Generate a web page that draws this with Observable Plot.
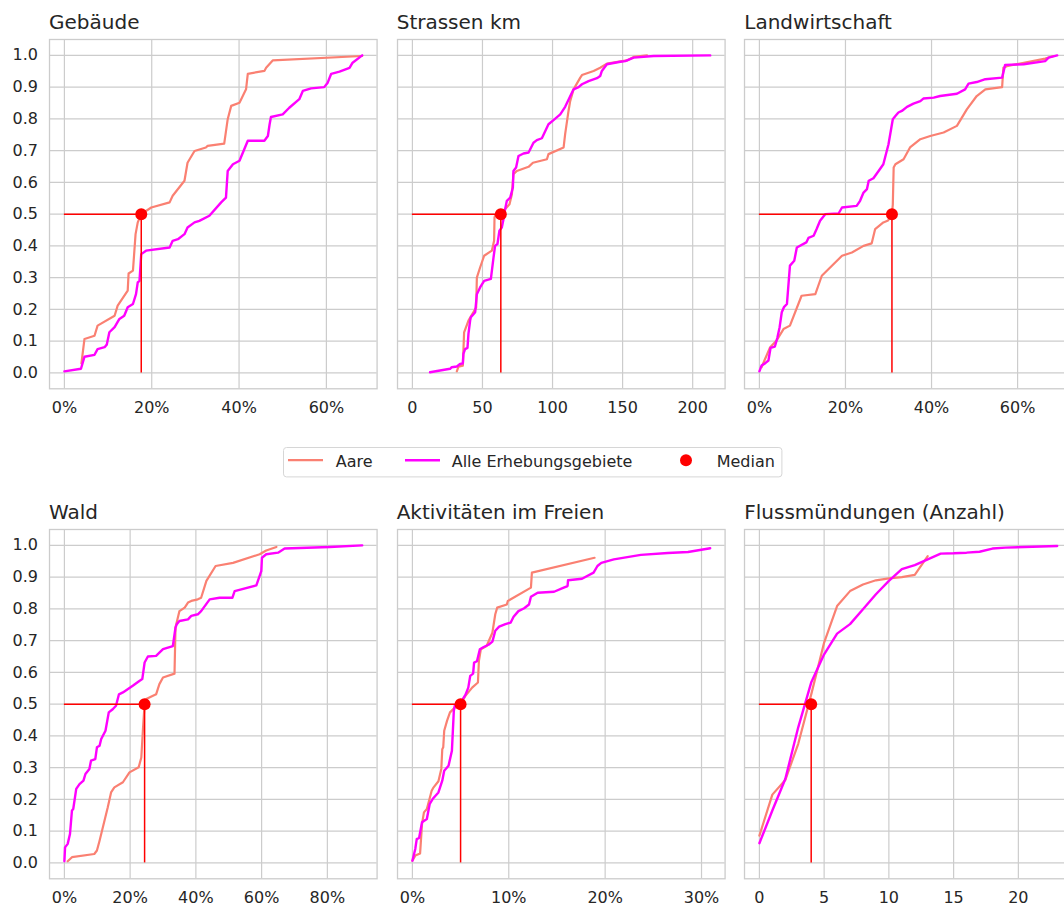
<!DOCTYPE html>
<html><head><meta charset="utf-8">
<script src="https://cdn.jsdelivr.net/npm/d3@7"></script>
<script src="https://cdn.jsdelivr.net/npm/@observablehq/plot@0.6"></script>
<style>
html,body{margin:0;padding:0;background:#fff;overflow:hidden;width:1064px;height:905px;}
#root{position:relative;width:1064px;height:905px;font-family:"DejaVu Sans",sans-serif;color:#262626;overflow:hidden;}
.panel{position:absolute;}
.panel svg{max-width:none !important;overflow:visible;display:block;}
.title{position:absolute;font-size:20px;line-height:20px;white-space:nowrap;font-family:"DejaVu Sans",sans-serif;color:#262626;}
.legend{position:absolute;left:283px;top:447px;}
</style></head><body><div id="root"></div>
<script>
// ---------- data ----------
const titles = ["Gebäude", "Strassen km", "Landwirtschaft", "Wald", "Aktivitäten im Freien", "Flussmündungen (Anzahl)"];
const xTicks = [[0, 20, 40, 60], [0, 50, 100, 150, 200], [0, 20, 40, 60], [0, 20, 40, 60, 80], [0, 10, 20, 30], [0, 5, 10, 15, 20]];
const percentAxis = [true, false, true, true, true, false];
const yTicks = [0, 0.1, 0.2, 0.3, 0.4, 0.5, 0.6, 0.7, 0.8, 0.9, 1.0];
const medians = [17.6, 63.1, 30.8, 24.4, 5.0, 4];
const seriesNames = ["Aare", "Alle Erhebungsgebiete", "Median"];

const gebaeudeAare = [[3.9,0.03],[4.6,0.107],[6.9,0.117],[7.6,0.149],[11.5,0.18],[12.2,0.212],[14.5,0.259],[14.7,0.313],[15.7,0.322],[16.3,0.437],[16.8,0.474],[17.6,0.5],[19.9,0.521],[24.1,0.537],[24.8,0.558],[27.5,0.605],[28.2,0.662],[29.8,0.699],[32.4,0.71],[32.8,0.715],[36.6,0.722],[37.4,0.799],[38.2,0.841],[40.1,0.851],[41.6,0.893],[42.0,0.942],[45.8,0.951],[46.2,0.961],[47.7,0.984],[68.2,0.998]];
const gebaeudeAlle = [[0,0.005],[3.8,0.013],[4.6,0.051],[6.9,0.057],[7.6,0.075],[9.2,0.081],[9.7,0.089],[10.3,0.128],[11.5,0.144],[12.6,0.17],[13.7,0.18],[14.5,0.207],[15.7,0.217],[16.4,0.248],[16.8,0.285],[17.2,0.29],[17.6,0.374],[18.7,0.385],[24.1,0.395],[24.8,0.416],[26.0,0.421],[27.5,0.437],[28.2,0.458],[29.8,0.474],[30.9,0.479],[33.2,0.495],[35.9,0.537],[37.0,0.552],[37.4,0.636],[38.6,0.657],[40.1,0.668],[42.0,0.731],[45.8,0.731],[46.6,0.746],[47.0,0.783],[47.3,0.806],[50.0,0.814],[51.5,0.835],[53.8,0.862],[54.6,0.888],[56.5,0.896],[59.5,0.9],[60.3,0.914],[61.1,0.942],[63.0,0.949],[65.3,0.961],[66.0,0.977],[68.2,1.0]];

const strassenAare = [[31.7,0.005],[32.9,0.02],[36.0,0.023],[36.9,0.128],[40.0,0.165],[45.5,0.206],[46.0,0.3],[48.3,0.332],[51.2,0.369],[56.7,0.385],[58.3,0.416],[58.6,0.49],[59.0,0.495],[63.1,0.5],[66.2,0.516],[69.3,0.531],[71.0,0.563],[72.1,0.626],[74.5,0.636],[82.9,0.649],[86.0,0.662],[96.0,0.673],[97.1,0.689],[107.9,0.71],[109.0,0.752],[111.4,0.825],[112.6,0.856],[115.0,0.893],[119.8,0.93],[121.0,0.938],[129.3,0.951],[134.0,0.961],[138.8,0.974],[153.1,0.984],[157.9,0.995],[167.4,1.0]];
const strassenAlle = [[12.6,0.002],[26.9,0.013],[28.1,0.018],[31.7,0.02],[34.0,0.028],[36.0,0.03],[36.4,0.06],[37.6,0.075],[39.3,0.079],[40.0,0.123],[41.2,0.165],[41.7,0.175],[44.8,0.191],[46.0,0.248],[48.3,0.269],[51.2,0.29],[56.0,0.296],[57.9,0.364],[59.0,0.4],[60.7,0.406],[62.1,0.448],[63.8,0.458],[65.0,0.484],[65.5,0.5],[66.2,0.516],[67.4,0.542],[69.8,0.552],[71.7,0.584],[72.1,0.636],[74.0,0.647],[75.7,0.683],[79.3,0.691],[82.9,0.694],[86.4,0.725],[88.8,0.733],[92.4,0.739],[97.1,0.783],[100.7,0.796],[105.5,0.814],[109.0,0.838],[115.0,0.893],[118.6,0.9],[121.0,0.909],[125.7,0.919],[131.7,0.928],[134.0,0.935],[135.2,0.951],[138.8,0.972],[148.3,0.98],[151.9,0.982],[157.9,0.993],[172.1,0.998],[212.5,1.0]];

const landAare = [[0.5,0.018],[2.5,0.081],[4.0,0.102],[5.6,0.138],[7.1,0.149],[9.8,0.243],[13.0,0.248],[14.5,0.306],[19.2,0.369],[21.5,0.379],[24.2,0.4],[26.1,0.408],[26.9,0.453],[28.8,0.474],[29.9,0.48],[30.8,0.5],[31.0,0.53],[31.2,0.647],[31.6,0.657],[33.5,0.673],[35.0,0.71],[37.4,0.736],[39.7,0.746],[42.8,0.757],[45.9,0.778],[48.2,0.83],[50.5,0.872],[52.5,0.893],[56.4,0.9],[56.7,0.961],[57.5,0.966],[66.4,0.99],[68.4,0.998]];
const landAlle = [[0,0.005],[0.5,0.023],[1.3,0.03],[2.1,0.039],[2.6,0.079],[3.6,0.083],[4.2,0.112],[4.7,0.144],[5.2,0.191],[5.7,0.207],[6.4,0.217],[7.1,0.338],[8.1,0.353],[8.7,0.395],[10.9,0.411],[11.4,0.425],[12.6,0.432],[13.3,0.453],[14.1,0.479],[15.3,0.5],[18.4,0.502],[19.2,0.521],[22.6,0.526],[23.4,0.542],[24.2,0.568],[25.0,0.579],[25.4,0.605],[26.5,0.613],[27.7,0.636],[28.8,0.657],[30.0,0.72],[31.0,0.799],[31.6,0.809],[32.3,0.82],[33.1,0.825],[34.3,0.838],[35.8,0.848],[37.4,0.856],[38.1,0.864],[40.5,0.867],[42.0,0.872],[45.9,0.879],[47.8,0.893],[48.6,0.911],[50.5,0.916],[52.5,0.925],[56.4,0.93],[57.1,0.97],[61.4,0.972],[66.4,0.982],[67.2,0.993],[69.2,1.0]];

const waldAare = [[1.0,0.005],[2.3,0.018],[9.1,0.028],[9.9,0.039],[10.7,0.07],[13.2,0.175],[14.2,0.222],[15.2,0.238],[17.8,0.254],[19.8,0.285],[22.6,0.301],[23.4,0.332],[23.9,0.421],[24.4,0.5],[24.9,0.516],[27.9,0.531],[28.9,0.563],[30.0,0.584],[33.5,0.596],[33.8,0.741],[35.0,0.793],[36.6,0.804],[37.6,0.82],[38.6,0.825],[40.6,0.83],[41.6,0.835],[43.2,0.888],[46.0,0.935],[51.3,0.945],[59.4,0.972],[61.4,0.984],[64.5,0.995]];
const waldAlle = [[0,0.005],[0.2,0.049],[1.0,0.06],[1.7,0.091],[2.3,0.165],[2.7,0.17],[3.6,0.233],[4.6,0.248],[5.8,0.259],[6.4,0.28],[7.6,0.296],[8.1,0.322],[9.4,0.327],[9.9,0.364],[10.7,0.369],[11.2,0.39],[12.5,0.416],[13.5,0.474],[14.7,0.484],[15.7,0.495],[16.6,0.531],[17.8,0.537],[20.8,0.558],[22.8,0.573],[23.7,0.579],[24.4,0.631],[25.4,0.65],[27.9,0.652],[28.9,0.662],[30.0,0.673],[33.0,0.683],[33.8,0.741],[34.2,0.752],[35.0,0.762],[37.6,0.767],[38.6,0.778],[40.6,0.783],[41.6,0.793],[44.2,0.83],[47.2,0.835],[51.1,0.835],[51.8,0.856],[58.4,0.874],[59.4,0.904],[59.9,0.919],[60.1,0.961],[61.4,0.972],[65.0,0.977],[67.0,0.99],[80.7,0.995],[90.6,1.0]];

const aktAare = [[0,0.007],[0.3,0.023],[0.8,0.03],[1.0,0.123],[1.2,0.159],[1.5,0.17],[2.0,0.227],[2.2,0.238],[2.7,0.257],[3.0,0.296],[3.1,0.358],[3.2,0.364],[3.3,0.416],[3.6,0.448],[3.9,0.474],[4.4,0.489],[5.0,0.5],[5.5,0.526],[6.2,0.552],[6.8,0.568],[6.9,0.636],[7.1,0.673],[7.7,0.683],[8.3,0.725],[8.6,0.783],[8.8,0.804],[9.8,0.814],[9.9,0.825],[12.3,0.867],[12.4,0.914],[18.9,0.961]];
const aktAlle = [[0,0.007],[0.3,0.044],[0.45,0.075],[0.7,0.079],[1.0,0.128],[1.5,0.138],[1.8,0.186],[2.1,0.201],[2.7,0.222],[3.1,0.259],[3.3,0.29],[3.75,0.306],[4.1,0.353],[4.3,0.479],[4.4,0.495],[5.0,0.505],[5.5,0.529],[5.8,0.552],[6.0,0.589],[6.3,0.596],[6.4,0.631],[6.7,0.635],[7.0,0.673],[7.4,0.68],[7.9,0.687],[8.3,0.697],[8.6,0.731],[9.0,0.744],[9.65,0.752],[10.2,0.757],[10.5,0.775],[11.0,0.793],[11.6,0.802],[12.1,0.814],[12.3,0.838],[13.0,0.851],[14.7,0.854],[15.7,0.867],[16.1,0.872],[16.15,0.89],[17.6,0.895],[18.8,0.914],[19.2,0.935],[19.6,0.945],[20.9,0.956],[23.7,0.97],[26.5,0.976],[28.6,0.979],[30.9,0.991]];

const flussAare = [[0,0.086],[1,0.215],[2,0.261],[3,0.375],[4,0.53],[5,0.694],[6,0.809],[7,0.856],[8,0.877],[9,0.89],[10,0.896],[11,0.9],[12,0.907],[13,0.966]];
const flussAlle = [[0,0.062],[1,0.165],[2,0.264],[3,0.427],[4,0.568],[5,0.657],[6,0.722],[7,0.752],[8,0.799],[9,0.846],[10,0.888],[11,0.925],[12,0.938],[13,0.956],[14,0.974],[15,0.975],[16,0.977],[17,0.98],[18,0.99],[19,0.993],[23,0.998]];

const aareSeries = [gebaeudeAare, strassenAare, landAare, waldAare, aktAare, flussAare];
const alleSeries = [gebaeudeAlle, strassenAlle, landAlle, waldAlle, aktAlle, flussAlle];

// ---------- styling / layout ----------
const C_AARE = "#fa8072", C_ALLE = "#ff00ff", C_MED = "#ff0000", C_GRID = "#cccccc", C_TEXT = "#262626";
const frameLeft = [49, 396.7, 744.3];
const frameTop = [39, 529];
const FW = 327.6, FH = 349.3;
const ML = 49, MR = 12, MT = 39, MB = 31;

const root = document.getElementById("root");

function panel(i) {
  const col = i % 3, row = Math.floor(i / 3);
  const aare = aareSeries[i], alle = alleSeries[i], med = medians[i];
  const xs = [0, ...aare.map(d => d[0]), ...alle.map(d => d[0])];
  const lo = d3.min(xs), hi = d3.max(xs), pad = (hi - lo) * 0.05;
  const fmt = percentAxis[i] ? (d => d + "%") : (d => String(d));
  const marks = [
    Plot.gridX(xTicks[i], {stroke: C_GRID, strokeOpacity: 1, strokeWidth: 1.2}),
    Plot.gridY(yTicks, {stroke: C_GRID, strokeOpacity: 1, strokeWidth: 1.2}),
    Plot.frame({stroke: C_GRID, strokeWidth: 1.3}),
    Plot.line(aare, {x: d => d[0], y: d => d[1], stroke: C_AARE, strokeWidth: 2.2}),
    Plot.line(alle, {x: d => d[0], y: d => d[1], stroke: C_ALLE, strokeWidth: 2.4}),
    Plot.ruleY([0.5], {x1: 0, x2: med, stroke: C_MED, strokeWidth: 1.5}),
    Plot.ruleX([med], {y1: 0, y2: 0.5, stroke: C_MED, strokeWidth: 1.5}),
    Plot.dot([[med, 0.5]], {x: d => d[0], y: d => d[1], r: 6, fill: C_MED, stroke: "none"}),
    Plot.axisX(xTicks[i], {tickSize: 0, tickPadding: 13, tickFormat: fmt, label: null, fontSize: 16, fill: C_TEXT})
  ];
  if (col === 0) {
    marks.push(Plot.axisY(yTicks, {tickSize: 0, tickPadding: 11.5, tickFormat: d => d.toFixed(1), label: null, fontSize: 16, fill: C_TEXT}));
  }
  const svg = Plot.plot({
    width: ML + FW + MR, height: MT + FH + MB,
    marginLeft: ML, marginRight: MR, marginTop: MT, marginBottom: MB,
    x: {domain: [lo - pad, hi + pad]},
    y: {domain: [-0.05, 1.05], ...(col === 0 ? {} : {axis: null})},
    style: {fontFamily: "DejaVu Sans, sans-serif", fontSize: "16px", color: C_TEXT, background: "transparent", overflow: "visible"},
    marks
  });
  const div = document.createElement("div");
  div.className = "panel";
  div.style.left = (frameLeft[col] - ML) + "px";
  div.style.top = (row * 490) + "px";
  div.appendChild(svg);
  root.appendChild(div);

  const t = document.createElement("div");
  t.className = "title";
  t.textContent = titles[i];
  t.style.left = frameLeft[col] + "px";
  t.style.top = (frameTop[row] - 26.6) + "px";
  root.appendChild(t);
}

for (let i = 0; i < 6; i++) panel(i);

// ---------- legend ----------
const ns = "http://www.w3.org/2000/svg";
const lg = document.createElementNS(ns, "svg");
lg.setAttribute("width", 502); lg.setAttribute("height", 32);
lg.setAttribute("class", "legend");
lg.style.position = "absolute"; lg.style.left = "283px"; lg.style.top = "447px";
lg.setAttribute("font-family", "DejaVu Sans, sans-serif");
lg.setAttribute("font-size", "16");
function el(tag, attrs, text) {
  const e = document.createElementNS(ns, tag);
  for (const k in attrs) e.setAttribute(k, attrs[k]);
  if (text != null) e.textContent = text;
  lg.appendChild(e);
  return e;
}
el("rect", {x: 0.5, y: 0.5, width: 498.4, height: 29.4, rx: 3, fill: "#fff", stroke: "#d6d6d6", "stroke-width": 1});
const cy = 13.2;
el("line", {x1: 5, x2: 40, y1: cy, y2: cy, stroke: C_AARE, "stroke-width": 2.2});
el("text", {x: 52.7, y: 20, fill: C_TEXT}, seriesNames[0]);
el("line", {x1: 122, x2: 157, y1: cy, y2: cy, stroke: C_ALLE, "stroke-width": 2.4});
el("text", {x: 168.7, y: 20, fill: C_TEXT}, seriesNames[1]);
el("circle", {cx: 403, cy: cy, r: 6, fill: C_MED});
el("text", {x: 433.7, y: 20, fill: C_TEXT}, seriesNames[2]);
root.appendChild(lg);
</script></body></html>
